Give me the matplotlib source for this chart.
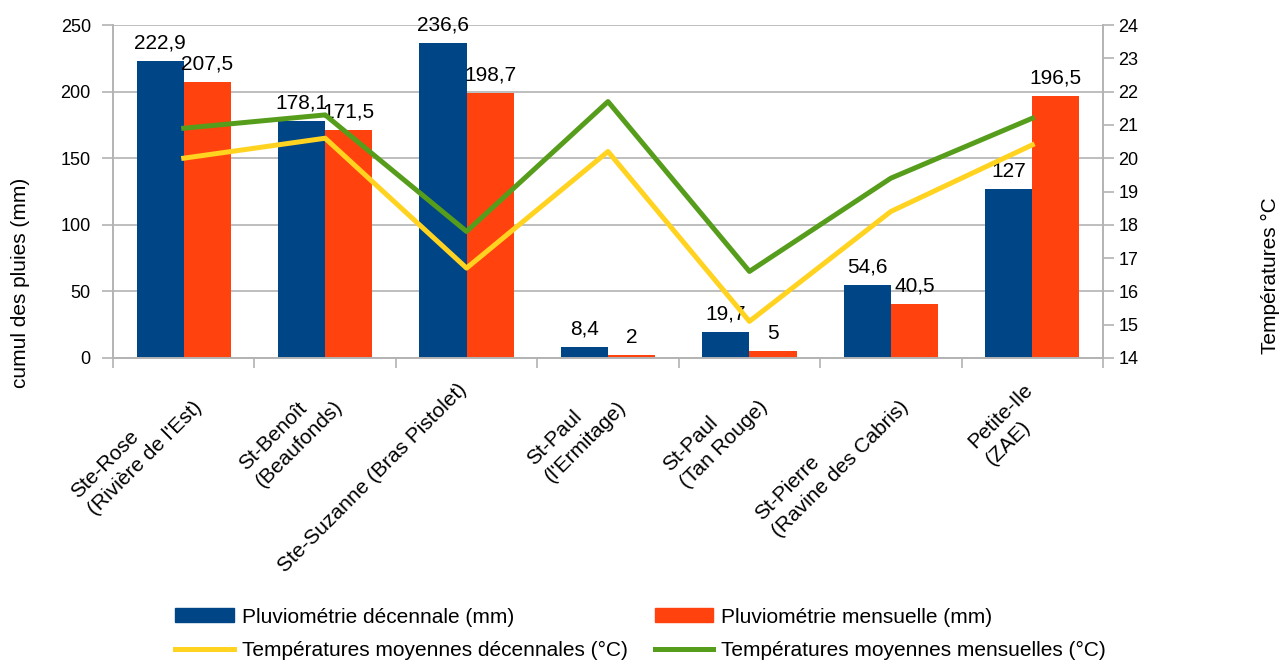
import matplotlib.pyplot as plt
import matplotlib.transforms as mtransforms
from matplotlib.patches import Patch
from matplotlib.lines import Line2D
import numpy as np

plt.rcParams['font.family'] = ['Liberation Sans', 'DejaVu Sans']

# stations (x labels)
stations = ["Ste-Rose\n(Rivière de l'Est)", "St-Benoît\n(Beaufonds)", "Ste-Suzanne (Bras Pistolet)",
            "St-Paul\n(l'Ermitage)", "St-Paul\n(Tan Rouge)", "St-Pierre\n(Ravine des Cabris)",
            "Petite-Ile\n(ZAE)"]

# rainfall in mm
pluie_decennale = [222.9, 178.1, 236.6, 8.4, 19.7, 54.6, 127]
pluie_mensuelle = [207.5, 171.5, 198.7, 2, 5, 40.5, 196.5]

# temperatures in degC
temp_decennale = [20.0, 20.6, 16.7, 20.2, 15.1, 18.4, 20.4]
temp_mensuelle = [20.9, 21.3, 17.8, 21.7, 16.6, 19.4, 21.2]

legend_labels = ["Pluviométrie décennale (mm)", "Pluviométrie mensuelle (mm)",
                 "Températures moyennes décennales (°C)", "Températures moyennes mensuelles (°C)"]

blue = "#004586"
orange = "#ff420e"
yellow = "#ffd320"
green = "#579d1c"
grey = "#b3b3b3"
fs = 15      # titles, legend, data labels
fs_tick = 13  # y tick labels

fig = plt.figure(figsize=(12.81, 6.64), dpi=100)
ax = fig.add_axes([113 / 1281, 1 - 358 / 664, 990 / 1281, 333 / 664])
ax2 = ax.twinx()

x = np.arange(len(stations))
w = 0.333
b1 = ax.bar(x - w / 2, pluie_decennale, w, color=blue, zorder=2)
b2 = ax.bar(x + w / 2, pluie_mensuelle, w, color=orange, zorder=2)

# data labels with french decimal comma
for bars, vals in [(b1, pluie_decennale), (b2, pluie_mensuelle)]:
    for rect, v in zip(bars, vals):
        ax.annotate(f"{v:g}".replace(".", ","), (rect.get_x() + rect.get_width() / 2, v),
                    xytext=(0, 6), textcoords="offset points", ha="center", va="bottom",
                    fontsize=fs, clip_on=False)

ax2.plot(x, temp_decennale, color=yellow, lw=3.6, zorder=3)
ax2.plot(x, temp_mensuelle, color=green, lw=3.6, zorder=3)

ax.set_xlim(-0.5, len(stations) - 0.5)
ax.set_ylim(0, 250)
ax.set_yticks(range(0, 251, 50))
ax2.set_ylim(14, 24)
ax2.set_yticks(range(14, 25))

ax.yaxis.grid(True, color=grey, lw=1.2, zorder=0)
ax.set_axisbelow(True)
for a in (ax, ax2):
    for s in a.spines.values():
        s.set_color(grey)
        s.set_linewidth(1.2)
    a.spines["top"].set_visible(False)

ax.set_xticks(x)
ax.set_xticklabels(stations, rotation=45, ha="right", va="top", rotation_mode="anchor",
                   fontsize=fs, multialignment="left", linespacing=1.35)
ax.tick_params(axis="x", which="major", length=0, pad=16)
# nudge the rotated labels a little to the left
shift = mtransforms.ScaledTranslation(-6.5 / 72, 0, fig.dpi_scale_trans)
for lab in ax.get_xticklabels():
    lab.set_transform(lab.get_transform() + shift)
ax.set_xticks(np.arange(-0.5, len(stations)), minor=True)
ax.tick_params(axis="x", which="minor", length=7.5, color=grey, width=1.2)
ax.tick_params(axis="y", length=8, color=grey, width=1.2, labelsize=fs_tick, pad=8)
ax2.tick_params(axis="y", length=8, color=grey, width=1.2, labelsize=fs_tick, pad=3)

fig.text(21 / 1281, 1 - 283 / 664, "cumul des pluies (mm)", rotation=90, ha="center", va="center",
         fontsize=fs)
fig.text(1270 / 1281, 1 - 276 / 664, "Températures °C", rotation=90, ha="center", va="center",
         fontsize=fs)

# legend is filled column by column, so order the handles to read row by row
handles = [Patch(color=blue), Line2D([], [], color=yellow, lw=3.6),
           Patch(color=orange), Line2D([], [], color=green, lw=3.6)]
labels = [legend_labels[0], legend_labels[2], legend_labels[1], legend_labels[3]]
fig.legend(handles, labels, ncol=2, loc="center", bbox_to_anchor=(0.5, 1 - 634 / 664),
           frameon=False, fontsize=fs, handlelength=2.8, handleheight=0.67, handletextpad=0.38,
           columnspacing=1.3, labelspacing=0.7, borderpad=0)

fig.savefig("out.png", dpi=100)
